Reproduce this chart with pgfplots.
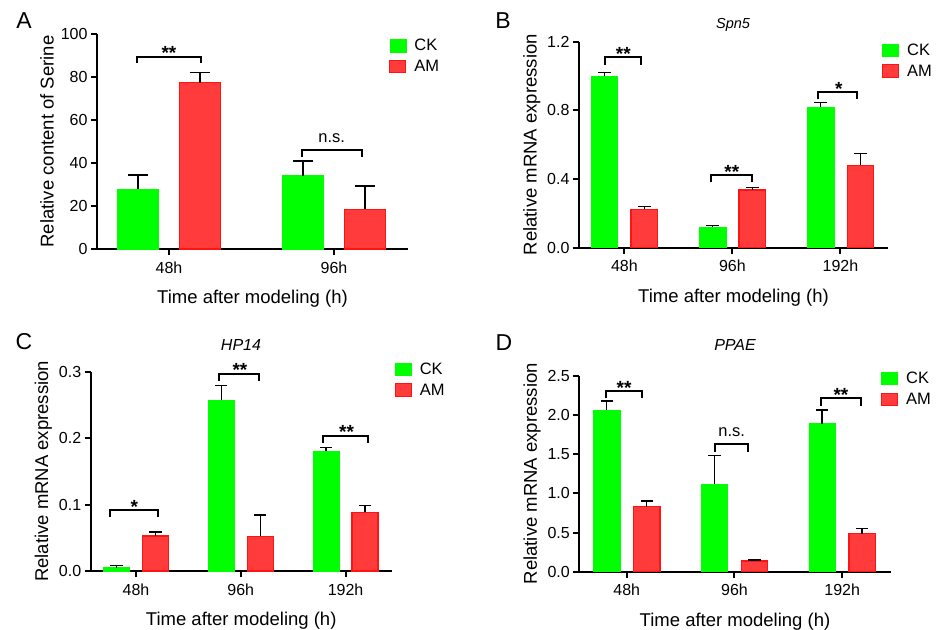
\documentclass[border=0pt]{standalone}
\usepackage{fontspec}
\setmainfont{Liberation Sans}
\usepackage{pgfplots}
\pgfplotsset{compat=1.18}
\definecolor{ckgreen}{HTML}{00FF00}
\definecolor{amred}{HTML}{FF3B3B}
\definecolor{amedge}{HTML}{FF1414}
\newcommand{\fs}[1]{\fontsize{#1}{#1}\selectfont}
\pgfplotsset{
  panel/.style={
    scale only axis,
    axis x line*=bottom, axis y line*=left,
    axis line style={line width=2pt,-},
    tick align=outside, major tick length=6pt,
    every tick/.style={line width=2pt,black},
    ymin=0, clip=false, ybar,
    tick label style={font=\fs{16}},
    xticklabel style={yshift=-3pt},
    label style={font=\fs{18.5}},
    xlabel style={yshift=-10pt},
    /pgf/number format/assume math mode=true,
    xlabel={Time after modeling (h)},
    legend cell align=left,
    legend style={draw=none, fill=none, font=\fs{16.5}, anchor=north west,
      inner sep=0pt, row sep=6pt, nodes={inner sep=1pt},
      /tikz/every odd column/.append style={column sep=7pt}},
    legend image code/.code={\draw[##1] (0pt,-6pt) rectangle (16pt,6.5pt);},
    error bars/error bar style={line width=1.5pt,black},
  },
  ck/.style={fill=ckgreen, draw=ckgreen, line width=0.5pt,
    error bars/y dir=plus, error bars/y explicit,
    error bars/error mark options={rotate=90, mark size=#1, line width=1.5pt, black}},
  am/.style={fill=amred, draw=amedge, line width=1.2pt,
    error bars/y dir=plus, error bars/y explicit,
    error bars/error mark options={rotate=90, mark size=#1, line width=1.5pt, black}},
}
\newcommand{\brk}[5]{%x1,x2,ytop,yleg,text
  \draw[line width=2pt,black] (axis cs:#1,#4) -- (axis cs:#1,#3) -- (axis cs:#2,#3) -- (axis cs:#2,#4);}
\newcommand{\stars}[3]{\node[anchor=base,inner sep=0pt,font=\fs{19}\bfseries,yshift=-3pt] at (axis cs:#1,#2) {#3};}
\newcommand{\ns}[2]{\node[anchor=base,inner sep=0pt,font=\fs{16.5},yshift=8pt] at (axis cs:#1,#2) {n.s.};}
\begin{document}
\begin{tikzpicture}
\path[use as bounding box] (0,0) rectangle (939pt,629pt);
% ---------------- Panel A
\begin{axis}[panel, at={(97pt,380pt)}, anchor=south west,
  width=311pt, height=215pt, xmin=-0.436, xmax=1.448, ymax=100,
  xtick={0,1}, xticklabels={48h,96h}, ytick={0,20,...,100},
  bar width=41pt,
  ylabel={Relative content of Serine},
  legend style={at={(0.939,0.981)}}]
\addplot[ck=10pt, bar shift=-31pt] coordinates {(0,27.9) +- (0,6.5) (1,34.1) +- (0,6.8)};
\addplot[am=10pt, bar shift=31pt] coordinates {(0,77.3) +- (0,4.9) (1,18.5) +- (0,10.8)};
\legend{CK,AM}
\brk{-0.196}{0.192}{89.5}{86.7}{}
\stars{0}{89.5}{**}
\brk{0.804}{1.171}{46}{43}{}
\ns{0.986}{46}
\end{axis}
% ---------------- Panel B
\begin{axis}[panel, at={(579pt,381.3pt)}, anchor=south west,
  width=309pt, height=206pt, xmin=-0.42, xmax=2.44, ymax=1.2,
  xtick={0,1,2}, xticklabels={48h,96h,192h}, ytick={0,0.4,0.8,1.2},
  yticklabel style={/pgf/number format/.cd,fixed,fixed zerofill,precision=1},
  bar width=26.7pt,
  ylabel={Relative mRNA expression},
  legend style={at={(0.98,0.995)}}]
\addplot[ck=6.2pt, bar shift=-20pt] coordinates {(0,1.0) +- (0,0.02) (1,0.12) +- (0,0.008) (2,0.818) +- (0,0.029)};
\addplot[am=6.2pt, bar shift=20pt] coordinates {(0,0.224) +- (0,0.015) (1,0.336) +- (0,0.016) (2,0.48) +- (0,0.07)};
\legend{CK,AM}
\brk{-0.179}{0.152}{1.109}{1.064}{}
\stars{-0.01}{1.109}{**}
\brk{0.8}{1.185}{0.423}{0.381}{}
\stars{0.994}{0.423}{**}
\brk{1.796}{2.157}{0.905}{0.866}{}
\stars{1.985}{0.905}{*}
\end{axis}
% ---------------- Panel C
\begin{axis}[panel, at={(90.7pt,58pt)}, anchor=south west,
  width=301pt, height=199.3pt, xmin=-0.432, xmax=2.44, ymax=0.3,
  xtick={0,1,2}, xticklabels={48h,96h,192h}, ytick={0,0.1,0.2,0.3},
  yticklabel style={/pgf/number format/.cd,fixed,fixed zerofill,precision=1},
  bar width=26pt,
  ylabel={Relative mRNA expression},
  legend style={at={(1.009,1.05)}}]
\addplot[ck=6.2pt, bar shift=-19.5pt] coordinates {(0,0.005) +- (0,0.003) (1,0.2574) +- (0,0.0216) (2,0.1806) +- (0,0.005)};
\addplot[am=6.2pt, bar shift=19.5pt] coordinates {(0,0.0527) +- (0,0.0063) (1,0.052) +- (0,0.0323) (2,0.0883) +- (0,0.0106)};
\legend{CK,AM}
\brk{-0.248}{0.213}{0.0918}{0.0818}{}
\stars{-0.016}{0.0918}{*}
\brk{0.795}{1.177}{0.2966}{0.2865}{}
\stars{0.992}{0.2966}{**}
\brk{1.787}{2.217}{0.2037}{0.193}{}
\stars{2.01}{0.2037}{**}
\end{axis}
% ---------------- Panel D
\begin{axis}[panel, at={(579.3pt,57.3pt)}, anchor=south west,
  width=311.4pt, height=196pt, xmin=-0.44, xmax=2.45, ymax=2.5,
  xtick={0,1,2}, xticklabels={48h,96h,192h}, ytick={0,0.5,...,2.5},
  yticklabel style={/pgf/number format/.cd,fixed,fixed zerofill,precision=1},
  bar width=26.5pt,
  ylabel={Relative mRNA expression},
  legend style={at={(0.968,1.024)}}]
\addplot[ck=6.2pt, bar shift=-20pt] coordinates {(0,2.062) +- (0,0.115) (1,1.114) +- (0,0.37) (2,1.888) +- (0,0.174)};
\addplot[am=6.2pt, bar shift=20pt] coordinates {(0,0.829) +- (0,0.072) (1,0.136) +- (0,0.013) (2,0.485) +- (0,0.068)};
\legend{CK,AM}
\brk{-0.192}{0.139}{2.304}{2.211}{}
\stars{-0.025}{2.304}{**}
\brk{0.819}{1.128}{1.624}{1.531}{}
\ns{0.974}{1.624}
\brk{1.802}{2.171}{2.211}{2.117}{}
\stars{1.988}{2.211}{**}
\end{axis}
% ---------------- Letters and titles
\node[font=\fs{23}] at (24pt,608pt) {A};
\node[font=\fs{23}] at (503pt,608pt) {B};
\node[font=\fs{23}] at (24pt,287pt) {C};
\node[font=\fs{23}] at (504pt,286.5pt) {D};
\node[font=\fs{14.5}\itshape] at (733pt,604pt) {Spn5};
\node[font=\fs{16}\itshape] at (241pt,284pt) {HP14};
\node[font=\fs{16}\itshape] at (735pt,284pt) {PPAE};
\end{tikzpicture}
\end{document}
